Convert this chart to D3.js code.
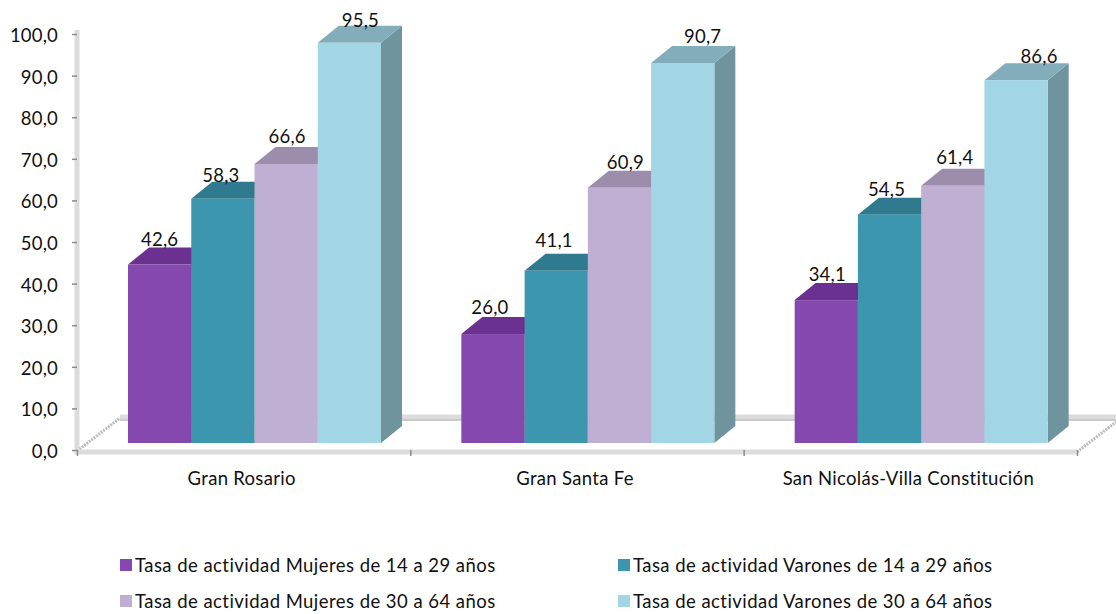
<!DOCTYPE html>
<html>
<head>
<meta charset="utf-8">
<script src="https://cdn.jsdelivr.net/npm/d3@7"></script>
<style>
body { margin: 0; background: #fff; }
text { font-family: Lato, "Open Sans", sans-serif; fill: #111; letter-spacing: 0.2px; }
</style>
</head>
<body>
<div id="viz"></div>
<script>
const categories = ["Gran Rosario", "Gran Santa Fe", "San Nicolás-Villa Constitución"];
const seriesNames = [
    "Tasa de actividad Mujeres de 14 a 29 años",
    "Tasa de actividad Varones de 14 a 29 años",
    "Tasa de actividad Mujeres de 30 a 64 años",
    "Tasa de actividad Varones de 30 a 64 años"
];
const mujeres1429 = [42.6, 26.0, 34.1];
const varones1429 = [58.3, 41.1, 54.5];
const mujeres3064 = [66.6, 60.9, 61.4];
const varones3064 = [95.5, 90.7, 86.6];
const yTicks = [0, 10, 20, 30, 40, 50, 60, 70, 80, 90, 100];

const frontColors = ["#8548ae", "#3c97ae", "#bfb0d3", "#a3d6e5"];
const topColors = ["#6a3190", "#2f7a8e", "#9c8dac", "#83adba"];
const sideColors = ["#5b2a7c", "#28687a", "#85788f", "#6f949e"];

// hand nudges for the value labels, [series][category]
const labelDx = [[0, -3, 1], [-2, -2, -3], [1, 6, 2], [11, 20, 23]];
const labelDy = [[0, -1, 0], [2, -5, 0], [-2, 0, -3], [3, -1, 2]];

const width = 1116;
const height = 614;
const depthX = 21;
const depthY = 17;
const comma = d3.format(".1f");
const fmt = v => comma(v).replace(".", ",");

const series = [mujeres1429, varones1429, mujeres3064, varones3064];

const svg = d3.select("#viz")
    .append("svg")
    .attr("width", width)
    .attr("height", height)
    .style("display", "block");

const yScale = d3.scaleLinear().domain([0, 100]).range([450, 34]);
// front face of the bars sits closer to the eye, so it has its own scale
const yBar = d3.scaleLinear().domain([0, 100]).range([443, 24]);
const xGroup = d3.scaleBand().domain(categories).range([77, 1077]);
const xBar = d3.scaleBand().domain(d3.range(4)).range([51, 304]);
const xTick = d3.scaleLinear().domain([0, 3]).range([77, 1077]);

// floor of the 3d box
const floorColor = "#dcdcdc";
const floor = svg.append("g");
floor.append("line").attr("x1", 120).attr("x2", width).attr("y1", 417).attr("y2", 417)
    .attr("stroke", floorColor).attr("stroke-width", 5);
floor.append("line").attr("x1", 120).attr("x2", width).attr("y1", 420).attr("y2", 420)
    .attr("stroke", "#bdbdbd").attr("stroke-width", 1.5);
[[77, 451, 120, 418], [1077, 452, 1116, 422]].forEach(d => {
    floor.append("line").attr("x1", d[0]).attr("y1", d[1]).attr("x2", d[2]).attr("y2", d[3])
        .attr("stroke", "#bdbdbd").attr("stroke-width", 3).attr("stroke-dasharray", "2 1");
});
floor.append("line").attr("x1", 77).attr("x2", 77).attr("y1", 30).attr("y2", 454)
    .attr("stroke", floorColor).attr("stroke-width", 5);
floor.append("line").attr("x1", 75).attr("x2", 1077).attr("y1", 452).attr("y2", 452)
    .attr("stroke", floorColor).attr("stroke-width", 5);

// axes
const yAxis = svg.append("g")
    .attr("transform", "translate(77,0)")
    .call(d3.axisLeft(yScale).tickValues(yTicks).tickSize(5).tickPadding(14).tickFormat(fmt));
yAxis.select(".domain").remove();
yAxis.selectAll("line").attr("stroke", "#8c8c8c").attr("stroke-width", 1.5);
yAxis.selectAll("text").attr("font-size", 18.5).attr("font-family", null).attr("dy", "0.4em");

const xTicks = svg.append("g")
    .attr("transform", "translate(0,450)")
    .call(d3.axisBottom(xTick).tickValues([0, 1, 2, 3]).tickSize(6).tickFormat(""));
xTicks.select(".domain").remove();
xTicks.selectAll("line").attr("stroke", "#8c8c8c").attr("stroke-width", 1.5);

const xLabels = svg.append("g")
    .attr("transform", "translate(0,472)")
    .call(d3.axisBottom(xGroup).tickSize(0).tickPadding(0));
xLabels.select(".domain").remove();
xLabels.selectAll("text").attr("font-size", 18.5).attr("font-family", null).attr("dy", "0.71em")
    .attr("dx", -2).style("letter-spacing", "0.3px");

// bars, left to right so each one hides the side of the previous
const bars = svg.append("g");
categories.forEach((cat, c) => {
    series.forEach((vals, s) => {
        const x0 = xGroup(cat) + xBar(s);
        const x1 = x0 + xBar.bandwidth();
        const y0 = yBar(0);
        const yT = yBar(vals[c]);
        bars.append("polygon")
            .attr("points", [[x1, yT], [x1 + depthX, yT - depthY], [x1 + depthX, y0 - depthY], [x1, y0]].join(" "))
            .attr("fill", sideColors[s]);
        bars.append("polygon")
            .attr("points", [[x0, yT], [x1, yT], [x1 + depthX, yT - depthY], [x0 + depthX, yT - depthY]].join(" "))
            .attr("fill", topColors[s]);
        bars.append("rect")
            .attr("x", x0)
            .attr("y", yT)
            .attr("width", x1 - x0)
            .attr("height", y0 - yT)
            .attr("fill", frontColors[s]);
    });
});

// value labels on top of everything
const labels = svg.append("g");
categories.forEach((cat, c) => {
    series.forEach((vals, s) => {
        labels.append("text")
            .attr("x", xGroup(cat) + xBar(s) + xBar.bandwidth() / 2 + labelDx[s][c])
            .attr("y", yBar(vals[c]) - 19 + labelDy[s][c])
            .attr("text-anchor", "middle")
            .attr("font-size", 18.5)
            .text(fmt(vals[c]));
    });
});

// legend, two columns, filled row by row
const legend = svg.append("g");
seriesNames.forEach((name, i) => {
    const lx = i % 2 === 0 ? 120 : 618;
    const ly = i < 2 ? 559 : 595;
    legend.append("rect").attr("x", lx).attr("y", ly).attr("width", 12).attr("height", 12)
        .attr("fill", frontColors[i]);
    legend.append("text").attr("x", lx + 15).attr("y", ly + 13)
        .attr("font-size", 18.5).style("letter-spacing", "0.45px").text(name);
});
</script>
</body>
</html>
